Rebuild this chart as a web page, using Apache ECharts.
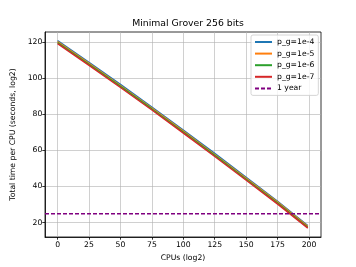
<!DOCTYPE html>
<html>
<head>
<meta charset="utf-8">
<script src="https://cdn.jsdelivr.net/npm/echarts@6/dist/echarts.min.js"></script>
<style>html,body{margin:0;padding:0;background:#fff}#c{width:356px;height:267px}</style>
</head>
<body>
<div id="c"></div>
<script>
var cpus = [0, 25, 50, 75, 100, 125, 150, 175, 199];
var pg4 = [120.7, 108.7, 96.5, 84.0, 71.2, 58.3, 45.1, 31.8, 18.4];
var pg5 = [120.2, 108.1, 95.9, 83.4, 70.6, 57.7, 44.5, 31.3, 17.9];
var pg6 = [119.6, 107.6, 95.4, 82.9, 70.1, 57.2, 44.0, 30.8, 17.4];
var pg7 = [119.1, 107.0, 94.8, 82.3, 69.5, 56.6, 43.4, 30.2, 16.9];
var oneYear = 24.91;
var xTicks = [0, 25, 50, 75, 100, 125, 150, 175, 200];
var yTicks = [20, 40, 60, 80, 100, 120];
var seriesNames = ['p_g=1e-4', 'p_g=1e-5', 'p_g=1e-6', 'p_g=1e-7', '1 year'];
var colors = ['#1f77b4', '#ff7f0e', '#2ca02c', '#d62728', '#800080'];
var xMin = -10, xMax = 209.5, yMin = 12, yMax = 125.5;

function pairs(xs, ys) { return xs.map(function (x, i) { return [x, ys[i]]; }); }
var font = 'DejaVu Sans';
var allY = [pg4, pg5, pg6, pg7];
var series = allY.map(function (ys, i) {
  return { name: seriesNames[i], type: 'line', data: pairs(cpus, ys), symbol: 'none',
    lineStyle: { width: 1.4, color: colors[i] }, itemStyle: { color: colors[i] }, z: 3 + i, animation: false };
});
series.push({ name: seriesNames[4], type: 'line', data: [[xMin, oneYear], [xMax, oneYear]], symbol: 'none',
  lineStyle: { width: 1.4, color: colors[4], type: [4, 2] }, itemStyle: { color: colors[4] }, z: 8, animation: false });

var chart = echarts.init(document.getElementById('c'), null, { renderer: 'canvas' });
chart.setOption({
  animation: false,
  backgroundColor: '#fff',
  title: { text: 'Minimal Grover 256 bits', left: 183, top: 14, textAlign: 'center',
    textStyle: { fontFamily: font, fontSize: 9.3, fontWeight: 'normal', color: '#000' } },
  grid: { left: 45, right: 35, top: 32, bottom: 30, show: true, borderColor: '#000', borderWidth: 0.8, containLabel: false },
  legend: { orient: 'vertical', left: 251, top: 35, data: seriesNames, itemWidth: 17, itemHeight: 8, itemGap: 3.6,
    padding: [3, 4, 3, 3], backgroundColor: 'rgba(255,255,255,0.8)', borderColor: '#cccccc', borderWidth: 0.8, borderRadius: 2,
    itemStyle: { opacity: 0 },
    textStyle: { fontFamily: font, fontSize: 7.7, color: '#000', padding: [0, 0, 0, 0] } },
  xAxis: { type: 'value', min: xMin, max: xMax, name: 'CPUs (log2)', nameLocation: 'middle', nameGap: 16,
    nameTextStyle: { fontFamily: font, fontSize: 7.7, color: '#000' },
    axisLine: { show: true, onZero: false, lineStyle: { color: '#000', width: 0.8 } },
    axisTick: { show: true, length: 2.7, customValues: xTicks, lineStyle: { color: '#000', width: 0.8 } },
    axisLabel: { customValues: xTicks, margin: 4, fontFamily: font, fontSize: 7.7, color: '#000' },
    splitLine: { show: true, lineStyle: { color: '#b0b0b0', width: 0.6 } } },
  yAxis: { type: 'value', min: yMin, max: yMax, name: 'Total time per CPU (seconds, log2)', nameLocation: 'middle', nameGap: 27,
    nameTextStyle: { fontFamily: font, fontSize: 7.7, color: '#000' },
    axisLine: { show: true, onZero: false, lineStyle: { color: '#000', width: 0.8 } },
    axisTick: { show: true, length: 2.7, customValues: yTicks, lineStyle: { color: '#000', width: 0.8 } },
    axisLabel: { customValues: yTicks, margin: 2.7, fontFamily: font, fontSize: 7.7, color: '#000' },
    splitLine: { show: true, lineStyle: { color: '#b0b0b0', width: 0.6 } } },
  series: series
});
</script>
</body>
</html>
